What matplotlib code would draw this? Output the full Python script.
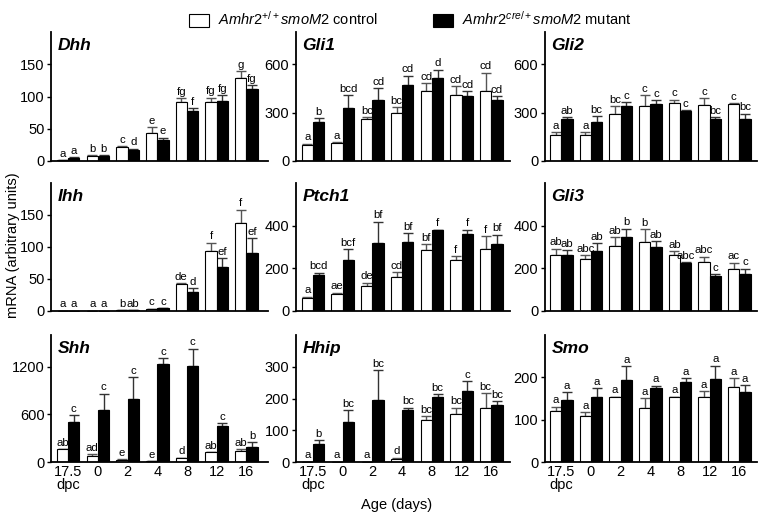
import numpy as np
import matplotlib.pyplot as plt
from matplotlib.patches import Patch

plt.rcParams['font.family'] = ['Liberation Sans', 'DejaVu Sans']
plt.rcParams['mathtext.fontset'] = 'custom'
plt.rcParams['mathtext.rm'] = 'Liberation Sans'
plt.rcParams['mathtext.it'] = 'Liberation Sans:italic'

# Ages (groups)
ages = ['17.5\ndpc', '0', '2', '4', '8', '12', '16']

# Each gene: control mean, control error, mutant mean, mutant error, letters
dhh_ctrl = [1.5, 8, 22.4, 42.7, 92.2, 91.7, 129.2]
dhh_ctrl_err = [0, 1, 0.6, 9.4, 5.2, 6.3, 10.4]
dhh_mut = [5, 8.3, 16.7, 32.3, 77.1, 92.7, 112]
dhh_mut_err = [0.5, 0.8, 2.6, 3.6, 4.7, 8.9, 5.7]
dhh_let_ctrl = ['a', 'b', 'c', 'e', 'fg', 'fg', 'g']
dhh_let_mut = ['a', 'b', 'd', 'e', 'f', 'fg', 'fg']

gli1_ctrl = [98.6, 109, 263, 298, 431.6, 411, 435.7]
gli1_ctrl_err = [8.2, 8.2, 10.3, 37, 51.4, 53.4, 111]
gli1_mut = [242.5, 329, 376, 468.5, 516, 400.7, 380]
gli1_mut_err = [24.7, 78, 74, 61.7, 49.3, 30.8, 20.6]
gli1_let_ctrl = ['a', 'a', 'bc', 'bc', 'cd', 'cd', 'cd']
gli1_let_mut = ['b', 'bcd', 'cd', 'cd', 'd', 'cd', 'cd']

gli2_ctrl = [160, 164, 294, 341, 362, 349, 355.5]
gli2_ctrl_err = [20.5, 16.4, 47, 66, 18.5, 41, 4]
gli2_mut = [263, 242.5, 341, 351, 308, 259, 259]
gli2_mut_err = [10.3, 35, 24.7, 26.7, 6.2, 14.4, 35]
gli2_let_ctrl = ['a', 'a', 'bc', 'c', 'c', 'c', 'c']
gli2_let_mut = ['ab', 'bc', 'c', 'c', 'c', 'bc', 'bc']

ihh_ctrl = [0.3, 0.4, 1.5, 3, 41.8, 93, 137.4]
ihh_ctrl_err = [0, 0, 0, 0.5, 1.6, 14, 21]
ihh_mut = [0.5, 0.5, 1.0, 4.2, 29.3, 68, 90]
ihh_mut_err = [0, 0, 0, 0.5, 6.3, 14.6, 24]
ihh_let_ctrl = ['a', 'a', 'b', 'c', 'de', 'f', 'f']
ihh_let_mut = ['a', 'a', 'ab', 'c', 'd', 'ef', 'ef']

ptch1_ctrl = [58.7, 77.8, 115.9, 158.7, 285.7, 240, 292]
ptch1_ctrl_err = [8, 8, 15.9, 23.8, 28.6, 17.5, 58.7]
ptch1_mut = [166.7, 238, 317, 324, 379, 360, 314]
ptch1_mut_err = [12.7, 51, 101.6, 39.7, 1.6, 20.6, 42.9]
ptch1_let_ctrl = ['a', 'ae', 'de', 'cd', 'bf', 'f', 'f']
ptch1_let_mut = ['bcd', 'bcf', 'bf', 'bf', 'f', 'f', 'bf']

gli3_ctrl = [263.6, 241.6, 306, 321.6, 263.6, 229, 197.7]
gli3_ctrl_err = [28, 20.4, 39, 62.8, 17.3, 25, 28]
gli3_mut = [262, 282.4, 346.7, 299.7, 222.8, 166.3, 172.6]
gli3_mut_err = [23.5, 36, 39, 28.2, 6.3, 6.3, 25]
gli3_let_ctrl = ['ab', 'abc', 'ab', 'b', 'ab', 'abc', 'ac']
gli3_let_mut = ['ab', 'ab', 'b', 'ab', 'abc', 'c', 'c']

shh_ctrl = [158, 79, 29, 8, 46, 121, 133]
shh_ctrl_err = [3, 21, 4, 1, 8, 4, 29]
shh_mut = [500, 658, 792, 1233, 1204, 454, 192]
shh_mut_err = [87.5, 204, 275, 71, 225, 33, 58]
shh_let_ctrl = ['ab', 'ad', 'e', 'e', 'd', 'ab', 'ab']
shh_let_mut = ['c', 'c', 'c', 'c', 'c', 'c', 'b']

hhip_ctrl = [1, 0.5, 1, 10.5, 132, 150, 171]
hhip_ctrl_err = [0, 0, 0, 3, 12.6, 21, 46]
hhip_mut = [57.7, 126, 195, 164.7, 205.6, 223.4, 178.3]
hhip_mut_err = [10.5, 37.8, 94.4, 6.3, 7.3, 31.5, 13.6]
hhip_let_ctrl = ['a', 'a', 'a', 'd', 'bc', 'bc', 'bc']
hhip_let_mut = ['b', 'bc', 'bc', 'bc', 'bc', 'c', 'bc']

smo_ctrl = [120, 109, 152.9, 127.8, 152.9, 152.9, 177]
smo_ctrl_err = [10.2, 8.6, 1.6, 23.5, 1.6, 14, 20.4]
smo_mut = [147.4, 153.7, 192.9, 174.8, 189, 196.8, 166]
smo_mut_err = [17.2, 21, 33, 5.5, 8.6, 30.6, 15]
smo_let_ctrl = ['a'] * 7
smo_let_mut = ['a'] * 7

panels = [
    ('Dhh', dhh_ctrl, dhh_ctrl_err, dhh_mut, dhh_mut_err, dhh_let_ctrl, dhh_let_mut, 200, [0, 50, 100, 150]),
    ('Gli1', gli1_ctrl, gli1_ctrl_err, gli1_mut, gli1_mut_err, gli1_let_ctrl, gli1_let_mut, 800, [0, 300, 600]),
    ('Gli2', gli2_ctrl, gli2_ctrl_err, gli2_mut, gli2_mut_err, gli2_let_ctrl, gli2_let_mut, 800, [0, 300, 600]),
    ('Ihh', ihh_ctrl, ihh_ctrl_err, ihh_mut, ihh_mut_err, ihh_let_ctrl, ihh_let_mut, 200, [0, 50, 100, 150]),
    ('Ptch1', ptch1_ctrl, ptch1_ctrl_err, ptch1_mut, ptch1_mut_err, ptch1_let_ctrl, ptch1_let_mut, 600, [0, 200, 400]),
    ('Gli3', gli3_ctrl, gli3_ctrl_err, gli3_mut, gli3_mut_err, gli3_let_ctrl, gli3_let_mut, 600, [0, 200, 400]),
    ('Shh', shh_ctrl, shh_ctrl_err, shh_mut, shh_mut_err, shh_let_ctrl, shh_let_mut, 1600, [0, 600, 1200]),
    ('Hhip', hhip_ctrl, hhip_ctrl_err, hhip_mut, hhip_mut_err, hhip_let_ctrl, hhip_let_mut, 400, [0, 100, 200, 300]),
    ('Smo', smo_ctrl, smo_ctrl_err, smo_mut, smo_mut_err, smo_let_ctrl, smo_let_mut, 300, [0, 100, 200]),
]

W, H = 758, 526
fig = plt.figure(figsize=(W / 100, H / 100), dpi=100)

rows = [(32, 161), (183, 311), (335, 462)]
cols = [(51, 268, -0.58, 6.73), (295.5, 510, -0.59, 6.63), (544.5, 757, -0.565, 6.59)]
bw = 0.38
x = np.arange(len(ages))

for k, (name, c, ce, m, me, lc, lm, ymax, yt) in enumerate(panels):
    r, cidx = divmod(k, 3)
    top, bot = rows[r]
    left, right, x0, x1 = cols[cidx]
    ax = fig.add_axes([left / W, 1 - bot / H, (right - left) / W, (bot - top) / H])

    ax.bar(x - bw / 2, c, bw, color='white', edgecolor='black', linewidth=0.8, zorder=2)
    ax.bar(x + bw / 2, m, bw, color='black', edgecolor='black', linewidth=0.8, zorder=2)
    ax.errorbar(x - bw / 2, c, yerr=[np.zeros(len(c)), ce], fmt='none', ecolor='#555555',
                elinewidth=1, capsize=3.5, capthick=1, zorder=1)
    ax.errorbar(x + bw / 2, m, yerr=[np.zeros(len(m)), me], fmt='none', ecolor='#333333',
                elinewidth=1, capsize=3.5, capthick=1, zorder=1)

    for xi, v, e, t in zip(x - bw / 2, c, ce, lc):
        ax.annotate(t, (xi, v + e), xytext=(0, 1), textcoords='offset points',
                    ha='center', va='bottom', fontsize=8.2)
    for xi, v, e, t in zip(x + bw / 2, m, me, lm):
        ax.annotate(t, (xi, v + e), xytext=(0, 1), textcoords='offset points',
                    ha='center', va='bottom', fontsize=8.2)

    ax.set_xlim(x0, x1)
    ax.set_ylim(0, ymax)
    ax.set_yticks(yt)
    ax.spines['top'].set_visible(False)
    ax.spines['right'].set_visible(False)
    ax.spines['left'].set_linewidth(1.3)
    ax.spines['bottom'].set_linewidth(1.3)
    ax.tick_params(axis='y', direction='out', length=3, width=1, labelsize=10.5, pad=1.5)
    ax.set_xticks(x)
    if r == 2:
        ax.set_xticklabels(ages, fontsize=10.5, linespacing=0.95)
        ax.tick_params(axis='x', length=0, pad=2)
    else:
        ax.tick_params(axis='x', length=0, labelbottom=False)

    ax.text(0.033, 0.955, name, transform=ax.transAxes, fontsize=12.5,
            fontweight='bold', style='italic', va='top', ha='left')

handles = [Patch(facecolor='white', edgecolor='black', linewidth=0.8),
           Patch(facecolor='black', edgecolor='black', linewidth=0.8)]
labels = [r'$\mathit{Amhr2}^{+/+}\mathit{smoM2}$ control',
          r'$\mathit{Amhr2}^{\mathit{cre}/+}\mathit{smoM2}$ mutant']
fig.legend(handles, labels, loc='upper center', bbox_to_anchor=(410 / W, 1.0),
           ncol=2, frameon=False, fontsize=10.5, handlelength=1.4, handleheight=1.0,
           columnspacing=3.8, handletextpad=0.6, borderpad=0.2)

fig.text(13 / W, 1 - 245 / H, 'mRNA (arbitrary units)', rotation=90,
         ha='center', va='center', fontsize=10.5)
fig.text(397 / W, 1 - 505 / H, 'Age (days)', ha='center', va='center', fontsize=10.5)

fig.savefig('out.png', dpi=100)
